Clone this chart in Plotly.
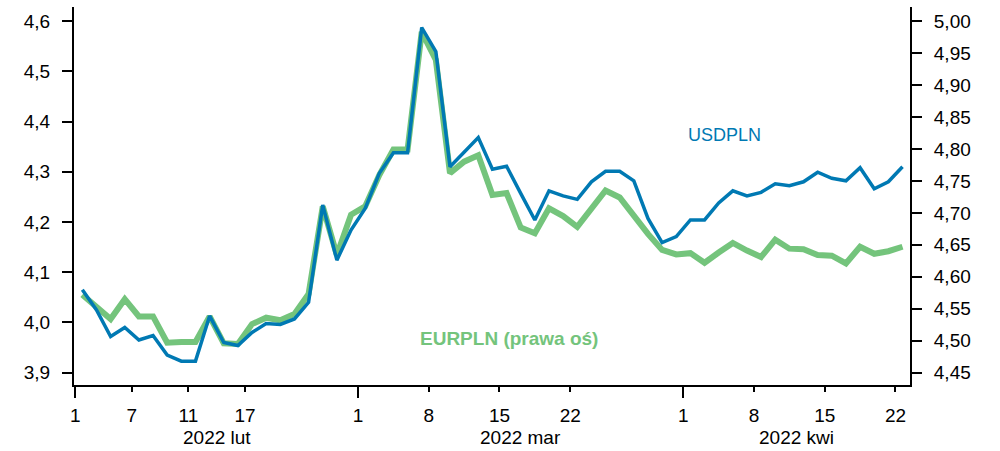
import pandas as pd
import plotly.graph_objects as go

# Business days, 1 Feb - 22 Apr 2022
dates = [d.strftime("%Y-%m-%d") for d in pd.bdate_range("2022-02-01", "2022-04-22")]

usdpln = [4.065, 4.025, 3.972, 3.990, 3.965, 3.974, 3.935, 3.923, 3.923, 4.013,
          3.960, 3.954, 3.980, 3.998, 3.996, 4.007, 4.040, 4.234, 4.124, 4.184,
          4.227, 4.297, 4.338, 4.338, 4.587, 4.539, 4.310, 4.338, 4.368, 4.305,
          4.311, 4.257, 4.204, 4.262, 4.252, 4.245, 4.280, 4.301, 4.301, 4.282,
          4.207, 4.159, 4.171, 4.204, 4.204, 4.238, 4.262, 4.252, 4.259, 4.276,
          4.272, 4.280, 4.299, 4.287, 4.282, 4.308, 4.266, 4.280, 4.310]

eurpln = [4.572, 4.553, 4.534, 4.565, 4.538, 4.538, 4.497, 4.498, 4.498, 4.538,
          4.496, 4.495, 4.526, 4.536, 4.532, 4.542, 4.573, 4.710, 4.634, 4.697,
          4.710, 4.759, 4.799, 4.799, 4.983, 4.939, 4.762, 4.780, 4.790, 4.728,
          4.731, 4.677, 4.668, 4.707, 4.695, 4.678, 4.707, 4.735, 4.724, 4.695,
          4.667, 4.642, 4.635, 4.637, 4.622, 4.638, 4.653, 4.641, 4.631, 4.658,
          4.644, 4.643, 4.634, 4.633, 4.621, 4.647, 4.636, 4.640, 4.647]

tick_dates = ["2022-02-01", "2022-02-07", "2022-02-11", "2022-02-17",
              "2022-03-01", "2022-03-08", "2022-03-15", "2022-03-22",
              "2022-04-01", "2022-04-08", "2022-04-15", "2022-04-22"]
tick_labels = ["1", "7", "11", "17", "1", "8", "15", "22", "1", "8", "15", "22"]
month_keys = ["2022-02", "2022-03", "2022-04"]
month_labels = ["2022 lut", "2022 mar", "2022 kwi"]

BLUE = "#0079b3"
GREEN = "#74c47c"
FONT = "Liberation Sans, Arial, sans-serif"

idx = list(range(len(dates)))
pos = {d: i for i, d in enumerate(dates)}
tickvals = [pos[d] - 0.5 for d in tick_dates]
month_start_vals = [pos[d] - 0.5 + 1e-4 for d in tick_dates if d.endswith("-01")]

fig = go.Figure()
fig.add_trace(go.Scatter(x=idx, y=eurpln, mode="lines", yaxis="y",
                         line=dict(color=GREEN, width=6), showlegend=False))
fig.add_trace(go.Scatter(x=idx, y=usdpln, mode="lines", yaxis="y2",
                         line=dict(color=BLUE, width=3.5), showlegend=False))

annotations = []
for key, lab in zip(month_keys, month_labels):
    ii = [i for i, d in enumerate(dates) if d.startswith(key)]
    annotations.append(dict(x=(ii[0] + ii[-1]) / 2, xref="x", y=-0.14, yref="paper",
                            text=lab, showarrow=False, xanchor="center", yanchor="middle",
                            font=dict(size=19, color="black", family=FONT)))
annotations.append(dict(x=0.778, y=0.662, xref="paper", yref="paper", text="USDPLN",
                        showarrow=False, xanchor="center", yanchor="middle",
                        font=dict(size=18, color=BLUE, family=FONT)))
annotations.append(dict(x=0.5207, y=0.124, xref="paper", yref="paper",
                        text="<b>EURPLN (prawa oś)</b>",
                        showarrow=False, xanchor="center", yanchor="middle",
                        font=dict(size=19, color=GREEN, family=FONT)))

fig.update_layout(
    width=1000, height=451,
    margin=dict(l=74, r=90, t=7, b=66, autoexpand=False),
    paper_bgcolor="white", plot_bgcolor="white",
    separators=", ",
    font=dict(family=FONT, size=19, color="black"),
    showlegend=False,
    xaxis=dict(range=[-0.59, 58.53], tickmode="array", tickvals=tickvals, ticktext=tick_labels,
               ticks="outside", ticklen=5, tickwidth=1.5, tickcolor="black", automargin=False,
               ticklabelstandoff=7,
               showline=True, linecolor="black", linewidth=2, showgrid=False, zeroline=False,
               tickfont=dict(size=19, color="black", family=FONT),
               minor=dict(tickmode="array", tickvals=month_start_vals, ticks="outside",
                          ticklen=11, tickwidth=2, tickcolor="black", showgrid=False)),
    yaxis=dict(side="right", range=[4.4308, 5.0219], tickmode="linear", tick0=4.45, dtick=0.05,
               tickformat=".2f", ticks="outside", ticklen=10, tickwidth=2, tickcolor="black",
               automargin=False, ticklabelstandoff=8,
               showline=True, linecolor="black", linewidth=2, showgrid=False, zeroline=False,
               tickfont=dict(size=19, color="black", family=FONT)),
    yaxis2=dict(side="left", overlaying="y", range=[3.8755, 4.6279], tickmode="linear",
                tick0=3.9, dtick=0.1, tickformat=".1f", ticks="outside", ticklen=10, tickwidth=2,
                tickcolor="black", showline=True, linecolor="black", linewidth=2,
                automargin=False, ticklabelstandoff=8,
                showgrid=False, zeroline=False,
                tickfont=dict(size=19, color="black", family=FONT)),
    annotations=annotations,
)

fig.write_html("out.html", config={"displayModeBar": False},
               post_script="document.body.style.margin='0';document.body.style.overflow='hidden';")
